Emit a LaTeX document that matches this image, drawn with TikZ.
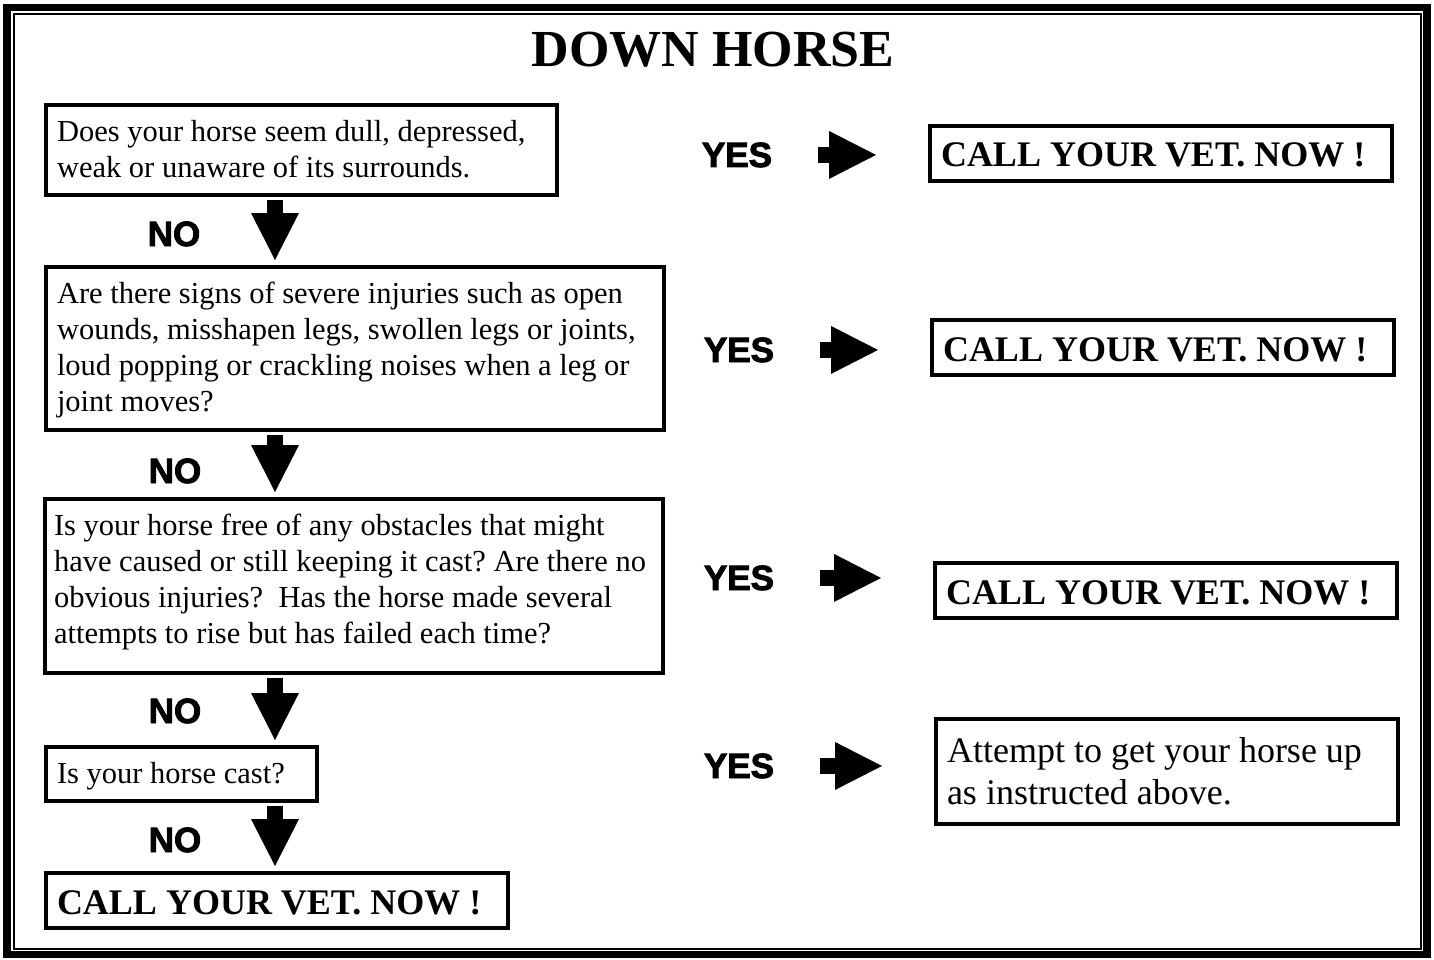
\documentclass[tikz,border=0pt]{standalone}
\usepackage{fontspec}
\setmainfont{Liberation Serif}
\newfontfamily\labelfont{Liberation Sans}[BoldFeatures={FakeBold=2.5}]
\usetikzlibrary{arrows.meta}
\frenchspacing
\tikzset{
  box/.style={draw, line width=4pt, anchor=north west, align=flush left, inner xsep=11pt, inner ysep=0pt,
    font=\fontsize{30.5}{36}\selectfont},
  callbox/.style={box, text width=440pt, text height=41pt, text depth=14pt,
    font=\bfseries\fontsize{36}{43}\selectfont},
  answer/.style={font=\labelfont\bfseries\fontsize{35}{40}\selectfont, inner sep=0pt, anchor=base},
  downarr/.style={line width=16pt, -{Triangle[length=47pt,width=48pt,line width=0pt]},
    shorten <=3pt, shorten >=5pt},
  rightarr/.style={downarr, shorten <=46pt, shorten >=52pt},
}
\begin{document}
\begin{tikzpicture}[x=1pt,y=-1pt]
\useasboundingbox (0,0) rectangle (1434,960);
%frame
\draw[line width=7.5pt] (7,7.5) rectangle (1427,954.5);
\draw[line width=2pt] (13.8,14) rectangle (1421,948.5);
\node[font=\bfseries\fontsize{52}{60}\selectfont, anchor=base] (title) at (713,67) {DOWN HORSE};
%questions
\node[box, text width=489pt, text height=37pt, text depth=53pt] (q1) at (44,103)
  {Does your horse seem dull, depressed,\\ weak or unaware of its surrounds.};
\node[box, text width=596pt, text height=36pt, text depth=127pt] (q2) at (44,265)
  {Are there signs of severe injuries such as open\\ wounds, misshapen legs, swollen legs or joints,\\
   loud popping or crackling noises when a leg or\\ joint moves?};
\node[box, inner xsep=9pt, text width=600pt, text height=36pt, text depth=138pt] (q3) at (43,497)
  {Is your horse free of any obstacles that might\\ have caused or still keeping it cast? Are there no\\
   obvious injuries?\ \ Has the horse made several\\ attempts to rise but has failed each time?};
\node[box, text width=249pt, text height=36pt, text depth=18pt] (q4) at (44,745) {Is your horse cast?};
\node[callbox] (q5) at (44,871) {CALL YOUR VET. NOW !};
%answers
\node[callbox] (r1) at (928,124) {CALL YOUR VET. NOW !};
\node[callbox] (r2) at (930,318) {CALL YOUR VET. NOW !};
\node[callbox] (r3) at (933,561) {CALL YOUR VET. NOW !};
\node[box, text width=440pt, text height=43pt, text depth=62pt, font=\fontsize{36}{42}\selectfont] (r4) at (934,717)
  {Attempt to get your horse up\\ as instructed above.};
%labels
\node[answer] (no1) at (174,246) {NO};
\node[answer] (no2) at (175,483) {NO};
\node[answer] (no3) at (175,723) {NO};
\node[answer] (no4) at (175,852) {NO};
\node[answer] (yes1) at (737,167) {YES};
\node[answer] (yes2) at (739,362) {YES};
\node[answer] (yes3) at (739,590) {YES};
\node[answer] (yes4) at (739,778) {YES};
%arrows
\coordinate (col) at (275,0);
\draw[downarr] (q1.south -| col) -- (q2.north -| col);
\draw[downarr] (q2.south -| col) -- (q3.north -| col);
\draw[downarr] (q3.south -| col) -- (q4.north -| col);
\draw[downarr] (q4.south -| col) -- (q5.north -| col);
\draw[rightarr] (yes1.east) -- (yes1.east -| r1.west);
\draw[rightarr] (yes2.east) -- (yes2.east -| r2.west);
\draw[rightarr] (yes3.east) -- (yes3.east -| r3.west);
\draw[rightarr] (yes4.east) -- (yes4.east -| r4.west);
\end{tikzpicture}
\end{document}
